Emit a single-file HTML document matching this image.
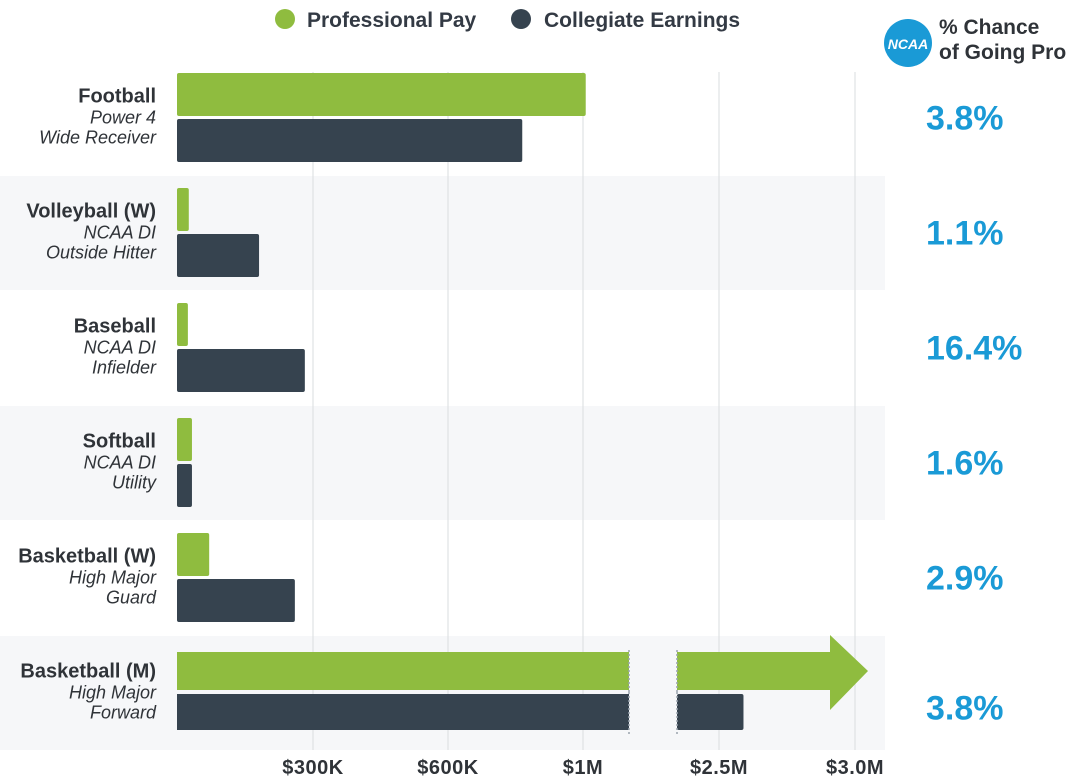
<!DOCTYPE html>
<html><head><meta charset="utf-8"><style>
html,body{margin:0;padding:0;background:#fff;}
svg{display:block;font-family:"Liberation Sans",sans-serif;}
</style></head><body>
<svg id="chart" width="1080" height="784" viewBox="0 0 1080 784">
<g id="bands"></g><g id="grid"></g><g id="bars"></g><g id="labels"></g><g id="pcts"></g><g id="ticks"></g>
<g>
<g><circle cx="285" cy="19" r="10" fill="#8fbc3f"/><text x="307" y="27" font-size="21" font-weight="bold" fill="#333a44">Professional Pay</text></g>
<g><circle cx="521" cy="19" r="10" fill="#36434f"/><text x="544" y="27" font-size="21" font-weight="bold" fill="#333a44">Collegiate Earnings</text></g>
</g>
<g>
<circle cx="908" cy="43" r="24" fill="#1a9ad6"/>
<text x="908" y="49" font-size="14" font-weight="bold" font-style="italic" fill="#fff" text-anchor="middle">NCAA</text>
<text x="939" y="34" font-size="21" font-weight="bold" fill="#2f3338">% Chance</text>
<text x="939" y="59" font-size="21" font-weight="bold" fill="#2f3338">of Going Pro</text>
</g>
</svg>
<script>
const categories=["Football","Volleyball (W)","Baseball","Softball","Basketball (W)","Basketball (M)"];
const subLine1=["Power 4","NCAA DI","NCAA DI","NCAA DI","High Major","High Major"];
const subLine2=["Wide Receiver","Outside Hitter","Infielder","Utility","Guard","Forward"];
const proPay=[1030000,26000,24000,33000,71000,3500000];
const collegiate=[820000,181000,282000,33000,260000,2590000];
const chancePro=["3.8%","1.1%","16.4%","1.6%","2.9%","3.8%"];
const tickValues=[300000,600000,1000000,2500000,3000000];
const tickLabels=["$300K","$600K","$1M","$2.5M","$3.0M"];
const NS="http://www.w3.org/2000/svg";
const dom=[0,300000,600000,1000000,2500000,3000000], rng=[177,313,448,583,719,855];
function x(v){for(let i=1;i<dom.length;i++){if(v<=dom[i]||i==dom.length-1){return rng[i-1]+(v-dom[i-1])/(dom[i]-dom[i-1])*(rng[i]-rng[i-1]);}}}
const BRK_LO=629,BRK_HI=677,BRK_VAL=1100000;
const rowTop=60,rowH=115;
function y(i){return rowTop+i*rowH;}
function mk(tag,attrs,parent){const e=document.createElementNS(NS,tag);for(const k in attrs)e.setAttribute(k,attrs[k]);document.getElementById(parent).appendChild(e);return e;}
categories.forEach((c,i)=>{if(i%2==1){const r=mk('rect',{x:0,y:y(i)+1,width:885,height:rowH-1,fill:'#f6f7f9'},'bands');

}});
tickValues.forEach((t,i)=>{const l=mk('line',{x1:x(t),x2:x(t),y1:72,y2:750,stroke:'#d9dcdf','stroke-width':1},'grid');


const tx=mk('text',{x:x(t),y:774,'font-size':20,'font-weight':'bold',fill:'#2f3338','text-anchor':'middle','letter-spacing':'0.5'},'ticks');
tx.textContent=tickLabels[i];

});
function drawBar(v,yy,h,color,name,arrow){
 const x0=177,xe=x(v);
 if(v>BRK_VAL){
  const a=mk('rect',{x:x0,y:yy,width:BRK_LO-x0,height:h,fill:color},'bars');
  
  
  if(arrow){const head=38;const end=Math.min(xe,868);
   const p=mk('polygon',{points:`${BRK_HI},${yy} ${end-head},${yy} ${end-head},${yy-17} ${end},${yy+h/2} ${end-head},${yy+h+20} ${end-head},${yy+h} ${BRK_HI},${yy+h}`,fill:color},'bars');
   
   }
  else{const b=mk('rect',{x:BRK_HI,y:yy,width:xe-BRK_HI,height:h,rx:2,fill:color},'bars');
   
   }
  [BRK_LO,BRK_HI].forEach(bx=>{const d=mk('line',{x1:bx,x2:bx,y1:yy-2,y2:yy+h+4,stroke:'#9aa3ad','stroke-width':1.5,'stroke-dasharray':'2,2'},'bars');
   
   });
 } else {
  const r=mk('rect',{x:x0,y:yy,width:Math.max(xe-x0,1),height:h,rx:2,fill:color},'bars');
  
  
 }
}
categories.forEach((c,i)=>{
 const top=y(i);const last=i==categories.length-1;
 const gy=last?top+17:top+13, gh=last?38:43, dy=last?top+59:top+59, dh=last?36:43;
 drawBar(proPay[i],gy,gh,'#8fbc3f','bar-pro-'+i,true);
 drawBar(collegiate[i],dy,dh,'#36434f','bar-collegiate-'+i,false);
 const cy=top+rowH/2-2;
 const t=mk('text',{x:156,y:cy-13,'font-size':20,'font-weight':'bold',fill:'#2f3338','text-anchor':'end'},'labels');
 t.textContent=c;
 
 
 const s1=mk('text',{x:156,y:cy+8,'font-size':18,'font-style':'italic',fill:'#2f3338','text-anchor':'end'},'labels');
 s1.textContent=subLine1[i];
 
 
 const s2=mk('text',{x:156,y:cy+28,'font-size':18,'font-style':'italic',fill:'#2f3338','text-anchor':'end'},'labels');
 s2.textContent=subLine2[i];
 
 
 const p=mk('text',{x:926,y:cy+14+(last?15:0),'font-size':34,'font-weight':'bold',fill:'#1a9ad6'},'pcts');
 p.textContent=chancePro[i];
 
 
});
</script>
</body></html>
